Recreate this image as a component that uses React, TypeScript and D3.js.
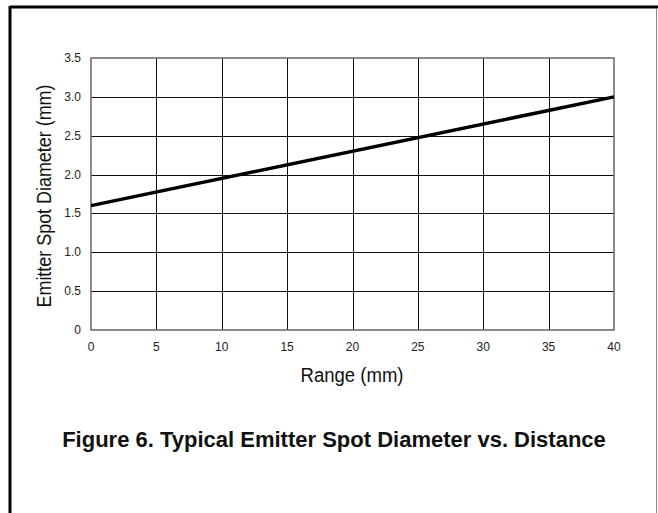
import React, { useEffect, useRef } from "react";
import * as d3 from "d3";

// data
const rangeMm = [0, 40];
const spotDiameterMm = [1.6, 3.0];
const xTicks = [0, 5, 10, 15, 20, 25, 30, 35, 40];
const yTicks = [0, 0.5, 1.0, 1.5, 2.0, 2.5, 3.0, 3.5];

const FONT = "'Liberation Sans', Arial, sans-serif";

export default function App() {
  const svgRef = useRef<SVGSVGElement>(null);

  useEffect(() => {
    const width = 658;
    const height = 513;
    const plot = { left: 91, top: 58, right: 614, bottom: 330 };

    const svg = d3.select(svgRef.current);
    svg.selectAll("*").remove();
    svg.attr("width", width).attr("height", height);

    // outer frame
    svg.append("line").attr("x1", 10).attr("x2", width).attr("y1", 7).attr("y2", 7)
      .attr("stroke", "#000").attr("stroke-width", 3);
    svg.append("line").attr("x1", 10).attr("x2", 10).attr("y1", 6).attr("y2", height)
      .attr("stroke", "#000").attr("stroke-width", 3);
    svg.append("line").attr("x1", 656.5).attr("x2", 656.5).attr("y1", 8).attr("y2", height)
      .attr("stroke", "#888").attr("stroke-width", 1);

    const x = d3.scaleLinear().domain([0, 40]).range([plot.left, plot.right]);
    const y = d3.scaleLinear().domain([0, 3.5]).range([plot.bottom, plot.top]);

    // grid
    const grid = svg.append("g").attr("stroke", "#111").attr("stroke-width", 1);
    grid.selectAll("line.v")
      .data(xTicks.slice(1, -1))
      .join("line")
      .attr("class", "v")
      .attr("x1", (d) => Math.round(x(d)) + 0.5)
      .attr("x2", (d) => Math.round(x(d)) + 0.5)
      .attr("y1", plot.top)
      .attr("y2", plot.bottom);
    grid.selectAll("line.h")
      .data(yTicks.slice(1, -1))
      .join("line")
      .attr("class", "h")
      .attr("x1", plot.left)
      .attr("x2", plot.right)
      .attr("y1", (d) => Math.round(y(d)) + 0.5)
      .attr("y2", (d) => Math.round(y(d)) + 0.5);

    // plot border
    svg.append("rect")
      .attr("x", plot.left)
      .attr("y", plot.top)
      .attr("width", plot.right - plot.left)
      .attr("height", plot.bottom - plot.top)
      .attr("fill", "none")
      .attr("stroke", "#666")
      .attr("stroke-width", 1.5);

    // tick labels
    svg.append("g")
      .selectAll("text")
      .data(yTicks)
      .join("text")
      .attr("x", 81)
      .attr("y", (d) => y(d) + 4)
      .attr("text-anchor", "end")
      .attr("font-family", FONT)
      .attr("font-size", 12)
      .attr("fill", "#222")
      .text((d) => (d === 0 ? "0" : d3.format(".1f")(d)));

    svg.append("g")
      .selectAll("text")
      .data(xTicks)
      .join("text")
      .attr("x", (d) => x(d))
      .attr("y", 351)
      .attr("text-anchor", "middle")
      .attr("font-family", FONT)
      .attr("font-size", 12)
      .attr("fill", "#222")
      .text((d) => d);

    // data line
    const pts = rangeMm.map((r, i) => [r, spotDiameterMm[i]] as [number, number]);
    svg.append("path")
      .datum(pts)
      .attr("fill", "none")
      .attr("stroke", "#000")
      .attr("stroke-width", 3.5)
      .attr("d", d3.line<[number, number]>().x((d) => x(d[0])).y((d) => y(d[1])));

    // axis titles (condensed face in the original)
    svg.append("text")
      .attr("x", 352)
      .attr("y", 382)
      .attr("text-anchor", "middle")
      .attr("font-family", FONT)
      .attr("font-size", 20)
      .attr("textLength", 103)
      .attr("lengthAdjust", "spacingAndGlyphs")
      .attr("fill", "#111")
      .text("Range (mm)");

    svg.append("text")
      .attr("transform", "translate(51, 196) rotate(-90)")
      .attr("text-anchor", "middle")
      .attr("font-family", FONT)
      .attr("font-size", 21)
      .attr("textLength", 223)
      .attr("lengthAdjust", "spacingAndGlyphs")
      .attr("fill", "#111")
      .text("Emitter Spot Diameter (mm)");

    svg.append("text")
      .attr("x", 334)
      .attr("y", 447)
      .attr("text-anchor", "middle")
      .attr("font-family", FONT)
      .attr("font-size", 22)
      .attr("font-weight", "bold")
      .attr("fill", "#111")
      .text("Figure 6. Typical Emitter Spot Diameter vs. Distance");
  }, []);

  return (
    <div>
      <svg ref={svgRef} style={{ position: "absolute", left: 0, top: 0, background: "#fff" }}></svg>
    </div>
  );
}
